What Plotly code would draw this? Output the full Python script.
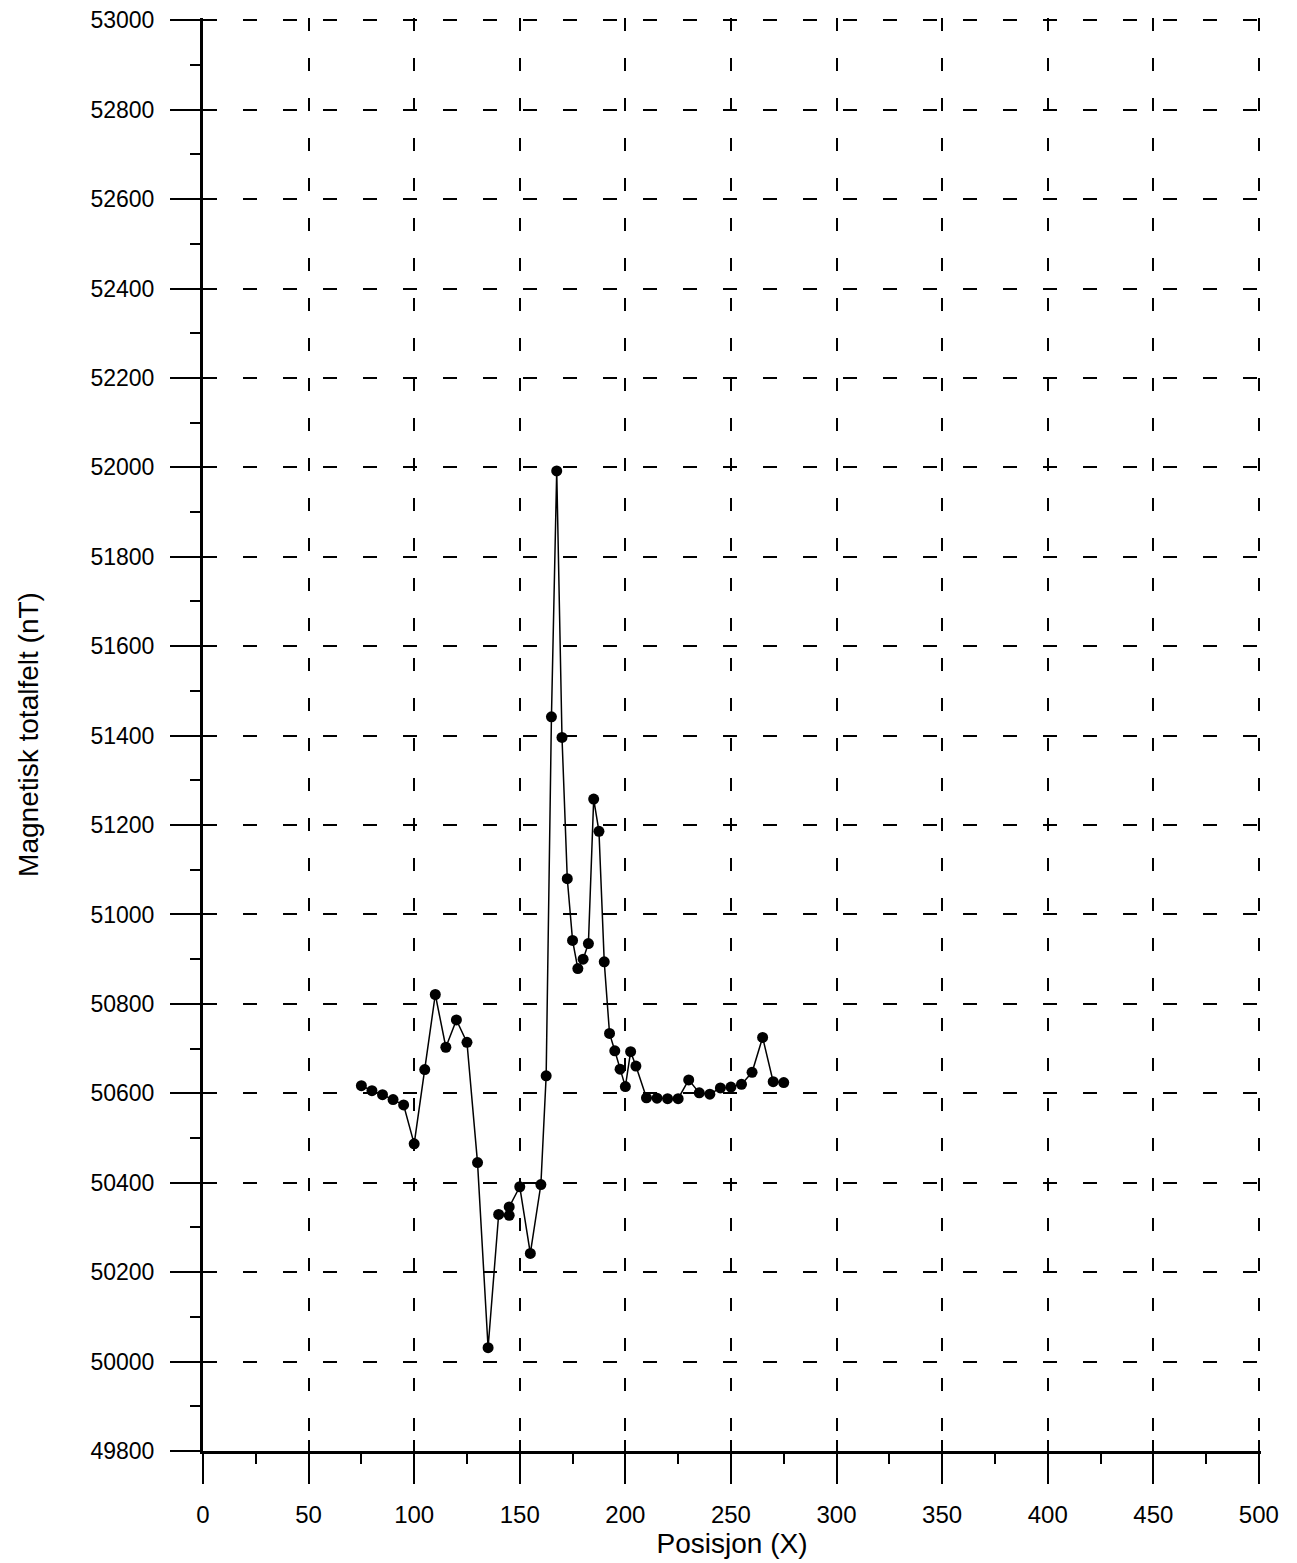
import plotly.graph_objects as go

# Data
posisjon = [75, 80, 85, 90, 95, 100, 105, 110, 115, 120, 125, 130, 135, 140,
            145, 145, 150, 155, 160, 162.5, 165, 167.5, 170, 172.5, 175, 177.5,
            180, 182.5, 185, 187.5, 190, 192.5, 195, 197.5, 200, 202.5, 205,
            210, 215, 220, 225, 230, 235, 240, 245, 250, 255, 260, 265, 270, 275]
totalfelt = [50617, 50606, 50597, 50586, 50574, 50487, 50653, 50821, 50703, 50764,
             50714, 50445, 50031, 50329, 50327, 50346, 50391, 50242, 50396, 50639,
             51442, 51992, 51396, 51080, 50942, 50879, 50900, 50935, 51258, 51186,
             50894, 50734, 50695, 50654, 50615, 50693, 50661, 50590, 50589, 50588,
             50588, 50630, 50601, 50598, 50612, 50614, 50620, 50647, 50725, 50626,
             50624]

x_range = [0, 501]
y_range = [49800, 53005]
x_tickvals = list(range(0, 501, 50))
y_tickvals = list(range(49800, 53001, 200))

FONT = "Liberation Sans, Arial, sans-serif"

fig = go.Figure()
fig.add_trace(go.Scatter(
    x=posisjon, y=totalfelt, mode="lines+markers",
    line=dict(color="black", width=1.5),
    marker=dict(color="black", size=11),
    showlegend=False, hoverinfo="x+y",
))
# helper trace for the overlaid (inside-tick) axes
fig.add_trace(go.Scatter(x=[None], y=[None], xaxis="x2", yaxis="y2",
                         showlegend=False, hoverinfo="skip"))

fig.update_layout(
    width=1297, height=1563,
    margin=dict(l=195, r=44, t=10, b=120),
    paper_bgcolor="white", plot_bgcolor="white",
    font=dict(family=FONT, color="black", size=24),
    xaxis=dict(
        range=x_range, tickvals=x_tickvals, ticktext=[str(v) for v in x_tickvals],
        ticks="outside", ticklen=30, tickwidth=2, tickcolor="black",
        minor=dict(ticks="outside", ticklen=10, tickwidth=2, tickcolor="black",
                   dtick=25, tick0=0, showgrid=False),
        showline=True, linecolor="black", linewidth=2.5,
        showgrid=True, gridcolor="black", gridwidth=2, griddash="13px,27px",
        zeroline=False, ticklabelstandoff=10, automargin=False,
        ticklabeloverflow="allow",
        tickfont=dict(size=24),
        title=dict(text="Posisjon (X)", font=dict(size=28), standoff=4),
    ),
    yaxis=dict(
        range=y_range, tickvals=y_tickvals, ticktext=[str(v) for v in y_tickvals],
        ticks="outside", ticklen=30, tickwidth=2, tickcolor="black",
        minor=dict(ticks="outside", ticklen=10, tickwidth=2, tickcolor="black",
                   dtick=100, tick0=49800, showgrid=False),
        showline=True, linecolor="black", linewidth=3,
        showgrid=True, gridcolor="black", gridwidth=2, griddash="14px,26px",
        zeroline=False, ticklabelstandoff=11, automargin=False,
        ticklabeloverflow="allow",
        tickfont=dict(size=23),
        title=dict(text="Magnetisk totalfelt (nT)", font=dict(size=28), standoff=44),
    ),
    xaxis2=dict(
        range=x_range, tickvals=x_tickvals, overlaying="x", anchor="y2", side="bottom",
        ticks="inside", ticklen=11, tickwidth=2, tickcolor="black",
        showticklabels=False, showgrid=False, showline=False, zeroline=False,
        automargin=False,
    ),
    yaxis2=dict(
        range=y_range, tickvals=y_tickvals, overlaying="y", anchor="x2", side="left",
        ticks="inside", ticklen=14, tickwidth=2, tickcolor="black",
        showticklabels=False, showgrid=False, showline=False, zeroline=False,
        automargin=False,
    ),
)

fig.write_html("out.html")
